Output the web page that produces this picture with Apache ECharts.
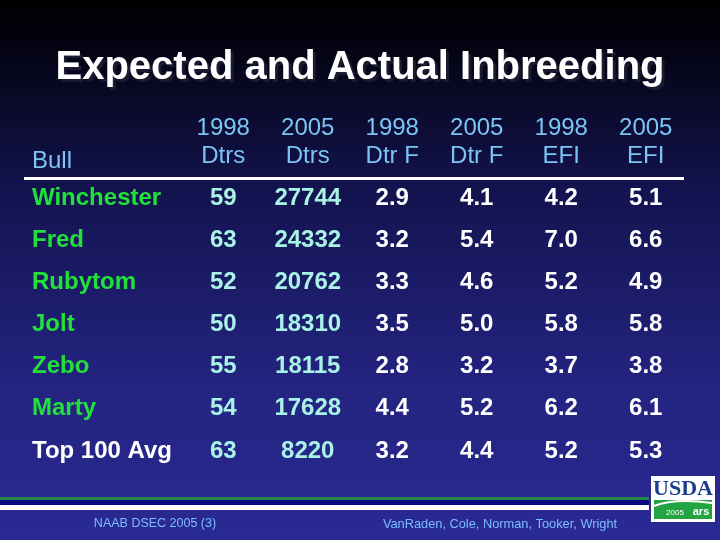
<!DOCTYPE html>
<html>
<head>
<meta charset="utf-8">
<script src="https://cdn.jsdelivr.net/npm/echarts@6/dist/echarts.min.js"></script>
<style>html,body{margin:0;padding:0;background:#000;}#c{width:720px;height:540px;}</style>
</head>
<body>
<div id="c"></div>
<script>
// ---- data ----
var titleText = 'Expected and Actual Inbreeding';
var columnHeaders = ['1998\nDtrs', '2005\nDtrs', '1998\nDtr F', '2005\nDtr F', '1998\nEFI', '2005\nEFI'];
var bulls = ['Winchester', 'Fred', 'Rubytom', 'Jolt', 'Zebo', 'Marty', 'Top 100 Avg'];
var dtrs1998 = [59, 63, 52, 50, 55, 54, 63];
var dtrs2005 = [27744, 24332, 20762, 18310, 18115, 17628, 8220];
var dtrF1998 = [2.9, 3.2, 3.3, 3.5, 2.8, 4.4, 3.2];
var dtrF2005 = [4.1, 5.4, 4.6, 5.0, 3.2, 5.2, 4.4];
var efi1998 = [4.2, 7.0, 5.2, 5.8, 3.7, 6.2, 5.2];
var efi2005 = [5.1, 6.6, 4.9, 5.8, 3.8, 6.1, 5.3];
var footerLeft = 'NAAB DSEC 2005 (3)';
var footerRight = 'VanRaden, Cole, Norman, Tooker, Wright';

var columns = [
  {vals: dtrs1998, dec: 0, color: '#a8f2e6'},
  {vals: dtrs2005, dec: 0, color: '#a8f2e6'},
  {vals: dtrF1998, dec: 1, color: '#ffffff'},
  {vals: dtrF2005, dec: 1, color: '#ffffff'},
  {vals: efi1998, dec: 1, color: '#ffffff'},
  {vals: efi2005, dec: 1, color: '#ffffff'}
];

var bodyFont = "'Liberation Sans', Arial, sans-serif";

var series = columns.map(function (col, ci) {
  return {
    type: 'scatter',
    symbolSize: 1,
    itemStyle: {color: 'rgba(0,0,0,0)'},
    silent: true,
    label: {
      show: true,
      position: 'inside',
      color: col.color,
      textBorderWidth: 0,
      textShadowBlur: 0,
      opacity: 1,
      fontFamily: bodyFont,
      fontWeight: 'bold',
      fontSize: 24,
      formatter: function (p) { return p.value[2].toFixed(col.dec); }
    },
    data: col.vals.map(function (v, ri) { return [ci, ri, v]; })
  };
});

var chart = echarts.init(document.getElementById('c'), null, {renderer: 'canvas'});
chart.setOption({
  animation: false,
  backgroundColor: {
    type: 'linear', x: 0, y: 0, x2: 0, y2: 1,
    colorStops: [
      {offset: 0, color: '#000002'},
      {offset: 0.06, color: '#02020c'},
      {offset: 0.35, color: '#13134f'},
      {offset: 0.7, color: '#23237f'},
      {offset: 1, color: '#2a2a94'}
    ]
  },
  title: {
    text: titleText,
    left: 'center',
    top: 43,
    textStyle: {
      color: '#ffffff',
      fontFamily: bodyFont,
      fontWeight: 'bold',
      fontSize: 40,
      textShadowColor: 'rgba(30,30,50,0.95)',
      textShadowOffsetX: 3,
      textShadowOffsetY: 3,
      textShadowBlur: 1
    }
  },
  grid: {left: 181, right: 32, top: 177, bottom: 68},
  xAxis: {
    type: 'category',
    position: 'top',
    data: columnHeaders,
    axisLine: {show: false},
    axisTick: {show: false},
    splitLine: {show: false},
    axisLabel: {
      margin: 7,
      color: '#7cc4f4',
      fontFamily: bodyFont,
      fontSize: 24,
      lineHeight: 28
    }
  },
  yAxis: {
    type: 'category',
    inverse: true,
    data: bulls,
    axisLine: {show: false},
    axisTick: {show: false},
    splitLine: {show: false},
    axisLabel: {
      margin: 149,
      align: 'left',
      fontFamily: bodyFont,
      fontWeight: 'bold',
      fontSize: 24,
      color: function (v) { return v === 'Top 100 Avg' ? '#ffffff' : '#22e03a'; }
    }
  },
  graphic: [
    {type: 'text', left: 32, top: 149, style: {text: 'Bull', fill: '#7cc4f4', font: "24px " + bodyFont}},
    {type: 'rect', shape: {x: 24, y: 177, width: 660, height: 3}, style: {fill: '#ffffff'}},
    {type: 'rect', shape: {x: 0, y: 497, width: 649, height: 3}, style: {fill: '#22844c'}},
    {type: 'rect', shape: {x: 0, y: 500, width: 649, height: 5}, style: {fill: '#050a80'}},
    {type: 'rect', shape: {x: 0, y: 505, width: 649, height: 5}, style: {fill: '#ffffff'}},
    {type: 'text', x: 155, y: 524, style: {text: footerLeft, fill: '#7ebcff', font: "12.5px " + bodyFont, textAlign: 'center', textVerticalAlign: 'middle'}},
    {type: 'text', x: 500, y: 524, style: {text: footerRight, fill: '#7ebcff', font: "12.8px " + bodyFont, textAlign: 'center', textVerticalAlign: 'middle'}},
    {type: 'group', children: [
      {type: 'rect', shape: {x: 651, y: 476, width: 64, height: 46}, style: {fill: '#ffffff'}},
      {type: 'text', x: 683, y: 489, style: {text: 'USDA', fill: '#1d3c8c', font: "bold 22px 'Liberation Serif', serif", textAlign: 'center', textVerticalAlign: 'middle'}},
      {type: 'rect', shape: {x: 654, y: 500, width: 58, height: 19}, style: {fill: '#23a443'}},
      {type: 'bezierCurve', shape: {x1: 654, y1: 506, cpx1: 675, cpy1: 498, x2: 712, y2: 503}, style: {stroke: '#ffffff', lineWidth: 2, fill: null}},
      {type: 'text', x: 675, y: 513, style: {text: '2005', fill: '#ffffff', font: "8px 'Liberation Sans', sans-serif", textAlign: 'center', textVerticalAlign: 'middle'}},
      {type: 'text', x: 701, y: 512, style: {text: 'ars', fill: '#ffffff', font: "bold 11px 'Liberation Sans', sans-serif", textAlign: 'center', textVerticalAlign: 'middle'}}
    ]}
  ],
  series: series
});
</script>
</body>
</html>
